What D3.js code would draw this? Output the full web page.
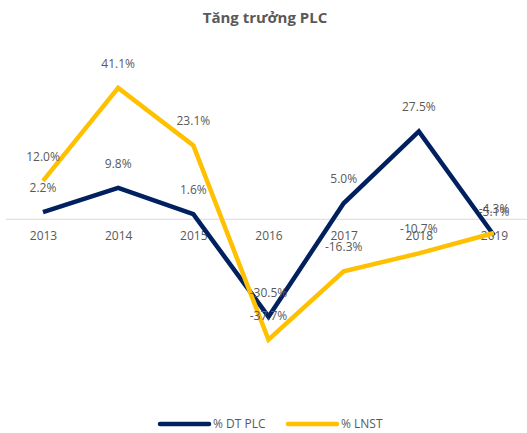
<!DOCTYPE html>
<html>
<head>
<meta charset="utf-8">
<script src="https://cdn.jsdelivr.net/npm/d3@7"></script>
<style>
  body { margin: 0; background: #fff; }
  text { font-family: "Open Sans", sans-serif; fill: #595959; }
</style>
</head>
<body>
<div id="chart"></div>
<script>
// Data
var years = ["2013", "2014", "2015", "2016", "2017", "2018", "2019"],
    dtPlc = [2.2, 9.8, 1.6, -30.5, 5.0, 27.5, -5.1],
    lnst = [12.0, 41.1, 23.1, -37.7, -16.3, -10.7, -4.3],
    seriesNames = ["% DT PLC", "% LNST"],
    seriesColors = ["#002060", "#FFC000"];

var width = 527,
    height = 433;

var svg = d3.select("#chart").append("svg")
    .attr("width", width)
    .attr("height", height);

// Scales
var xScale = d3.scalePoint().domain(years).range([43, 494]),
    yScale = d3.scaleLinear().domain([-50, 50]).range([379, 59.5]);

// Title
svg.append("text")
    .attr("x", 265)
    .attr("y", 23)
    .attr("text-anchor", "middle")
    .style("font-size", "15px")
    .style("font-weight", "bold")
    .text("Tăng trưởng PLC");

// Zero line
svg.append("line")
    .attr("x1", 6).attr("x2", 527)
    .attr("y1", yScale(0)).attr("y2", yScale(0))
    .attr("stroke", "#d9d9d9")
    .attr("stroke-width", 1);

// Category labels
var xAxis = d3.axisBottom(xScale).tickSize(0).tickPadding(0);
var gx = svg.append("g")
    .attr("transform", "translate(0," + (yScale(0) + 12) + ")")
    .call(xAxis);
gx.select(".domain").remove();
gx.selectAll("text")
    .attr("dy", "0.71em")
    .style("font-family", "'Open Sans', sans-serif")
    .style("font-size", "12px")
    .style("fill", "#595959");

var line = d3.line()
    .x(function (d, i) { return xScale(years[i]); })
    .y(function (d) { return yScale(d); });

var allSeries = [dtPlc, lnst];

// Lines
allSeries.forEach(function (s, k) {
    svg.append("path")
        .datum(s)
        .attr("d", line)
        .attr("fill", "none")
        .attr("stroke", seriesColors[k])
        .attr("stroke-width", 4.5)
        .attr("stroke-linejoin", "miter");
});

// Data labels, above each point
allSeries.forEach(function (s) {
    svg.selectAll(null)
        .data(s)
        .enter().append("text")
        .attr("x", function (d, i) { return xScale(years[i]); })
        .attr("y", function (d) { return yScale(d) - 20; })
        .attr("text-anchor", "middle")
        .style("font-size", "12px")
        .text(function (d) { return d.toFixed(1) + "%"; });
});

// Legend
var legend = svg.append("g");
var legendX = [160, 288];
seriesNames.forEach(function (name, k) {
    legend.append("line")
        .attr("x1", legendX[k]).attr("x2", legendX[k] + 49)
        .attr("y1", 424).attr("y2", 424)
        .attr("stroke", seriesColors[k])
        .attr("stroke-width", 4.5)
        .attr("stroke-linecap", "round");
    legend.append("text")
        .attr("x", legendX[k] + 53)
        .attr("y", 428)
        .style("font-size", "12px")
        .text(name);
});
</script>
</body>
</html>
